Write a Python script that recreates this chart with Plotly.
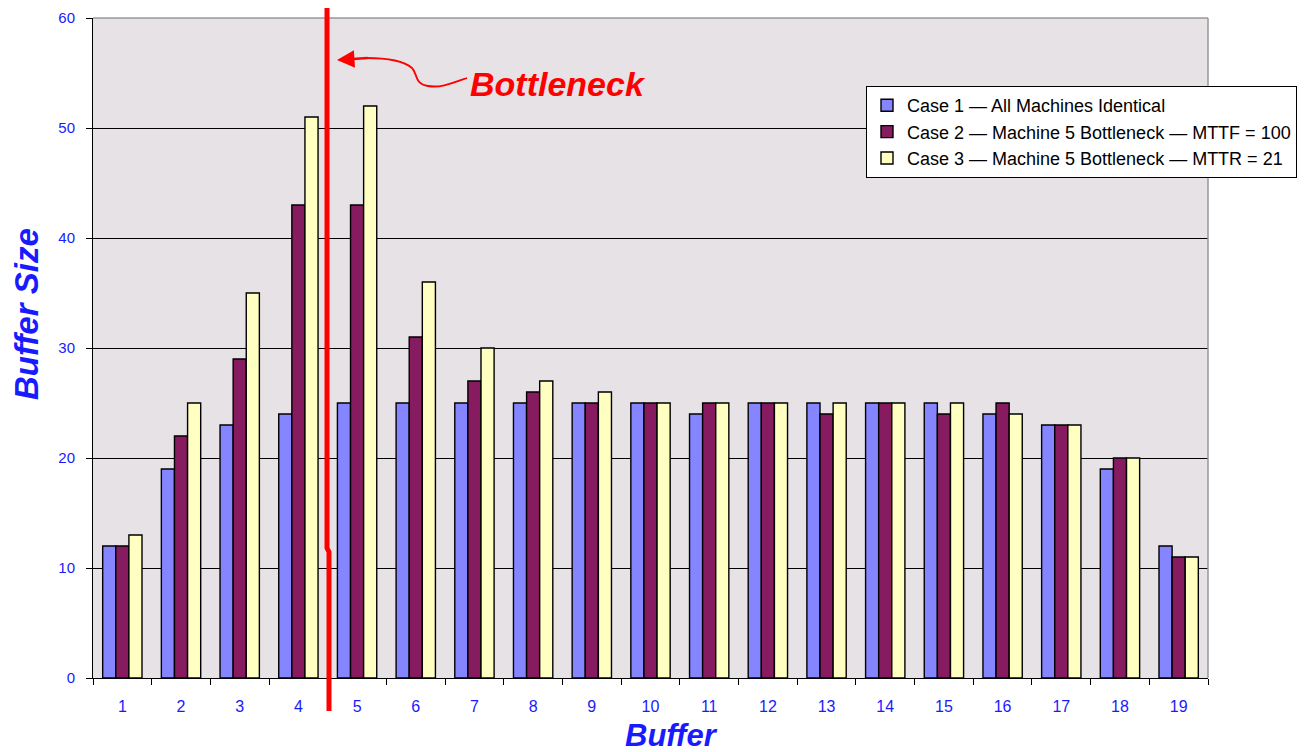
import plotly.graph_objects as go

buffers = [str(i) for i in range(1, 20)]
case1 = [12, 19, 23, 24, 25, 25, 25, 25, 25, 25, 24, 25, 25, 25, 25, 24, 23, 19, 12]
case2 = [12, 22, 29, 43, 43, 31, 27, 26, 25, 25, 25, 25, 24, 25, 24, 25, 23, 20, 11]
case3 = [13, 25, 35, 51, 52, 36, 30, 27, 26, 25, 25, 25, 25, 25, 25, 24, 23, 20, 11]
names = ["Case 1 — All Machines Identical",
         "Case 2 — Machine 5 Bottleneck — MTTF = 100",
         "Case 3 — Machine 5 Bottleneck — MTTR = 21"]
colors = ["#8585FF", "#861B60", "#FFFFC2"]

L, R, T, B = 93, 1208, 18, 678
W, H = R - L, B - T
def px(x):
    return (x - L) / W
def py(y):
    return (B - y) / H

FONT = "Liberation Sans, Arial, sans-serif"
fig = go.Figure()
for vals, nm, col in zip([case1, case2, case3], names, colors):
    fig.add_trace(go.Bar(x=buffers, y=vals, name=nm,
                         marker=dict(color=col, line=dict(color="#000000", width=1.4))))

blue = "#1a1aff"
fig.update_layout(
    width=1308, height=752,
    margin=dict(l=L, r=1308 - R, t=T, b=752 - B, autoexpand=False),
    paper_bgcolor="white", plot_bgcolor="#E6E2E6",
    barmode="group", bargap=0.33, bargroupgap=0,
    font=dict(family=FONT, color=blue),
    showlegend=True,
    legend=dict(x=px(866), y=py(86), xanchor="left", yanchor="top",
                bgcolor="white", bordercolor="black", borderwidth=1,
                font=dict(size=18, color="black"), tracegroupgap=0, itemwidth=30),
    xaxis=dict(showgrid=False, tickson="boundaries", ticks="outside", ticklen=6, tickcolor="black",
               showline=True, linecolor="black", linewidth=1, mirror=False,
               tickfont=dict(size=16, color=blue), ticklabelstandoff=14),
    yaxis=dict(range=[0, 60], dtick=10, showgrid=True, gridcolor="black", gridwidth=1,
               ticks="outside", ticklen=6, tickcolor="black", showline=True, linecolor="black",
               tickfont=dict(size=15, color=blue), zeroline=False, ticklabelstandoff=8),
)

# axis titles placed as in the reference
fig.add_annotation(xref="paper", yref="paper", x=px(671), y=py(735), xanchor="center", yanchor="middle",
                   text="<b><i>Buffer</i></b>", showarrow=False, font=dict(size=31, color=blue, family=FONT))
fig.add_annotation(xref="paper", yref="paper", x=px(26), y=py(314), xanchor="center", yanchor="middle",
                   text="<b><i>Buffer Size</i></b>", showarrow=False, textangle=-90,
                   font=dict(size=33, color=blue, family=FONT))

# plot border top/right in gray
fig.add_shape(type="line", xref="paper", yref="paper", x0=0, x1=1, y0=1, y1=1, line=dict(color="#999999", width=1.5))
fig.add_shape(type="line", xref="paper", yref="paper", x0=1, x1=1, y0=0, y1=1, line=dict(color="#999999", width=1.5))

# red bottleneck line
path = (f"M {px(327)},{py(8)} L {px(327)},{py(548)} L {px(329)},{py(552)} L {px(329)},{py(711)}")
fig.add_shape(type="path", xref="paper", yref="paper", path=path, line=dict(color="#FF0000", width=5))

# squiggle
sq = (f"M {px(467)},{py(78)} C {px(450)},{py(84)} {px(440)},{py(88)} {px(428)},{py(86)} "
      f"C {px(414)},{py(84)} {px(418)},{py(74)} {px(412)},{py(68)} "
      f"C {px(404)},{py(61)} {px(390)},{py(58)} {px(366)},{py(58)}")
fig.add_shape(type="path", xref="paper", yref="paper", path=sq, line=dict(color="#FF0000", width=1.8))
fig.add_annotation(xref="paper", yref="paper", x=px(337), y=py(60), ax=32, ay=-2,
                   axref="pixel", ayref="pixel", text="", showarrow=True, arrowhead=2,
                   arrowsize=1.4, arrowwidth=2.5, arrowcolor="#FF0000")
fig.add_annotation(xref="paper", yref="paper", x=px(468), y=py(84), xanchor="left", yanchor="middle",
                   text="<b><i>Bottleneck</i></b>", showarrow=False,
                   font=dict(size=34, color="#FF0000", family=FONT))

fig.write_html("out.html", config={"displayModeBar": False},
               post_script="document.body.style.margin='0';")
